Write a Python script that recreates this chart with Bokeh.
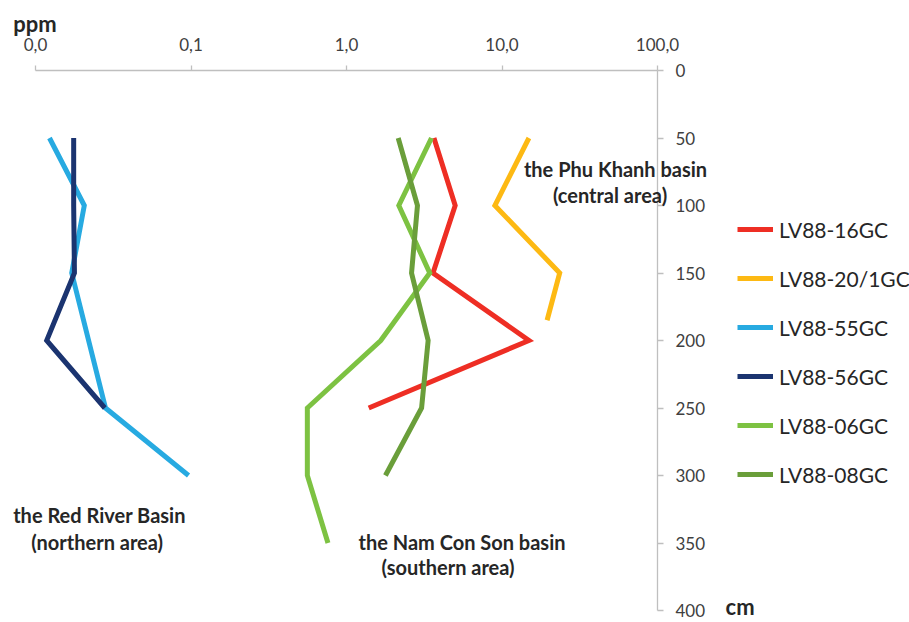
from bokeh.plotting import figure
from bokeh.models import Range1d, FixedTicker, Legend, LegendItem, Label
from bokeh.embed import file_html
from bokeh.resources import INLINE

# ---- data (ppm vs depth in cm) ----
depth_16 = [50, 100, 150, 200, 250]
ppm_16 = [3.65, 5.0, 3.6, 14.9, 1.39]

depth_20 = [50, 100, 150, 185]
ppm_20 = [14.9, 9.0, 23.5, 19.5]

depth_55 = [50, 100, 150, 250, 300]
ppm_55 = [0.0123, 0.0206, 0.0171, 0.0282, 0.0964]

depth_56 = [50, 100, 150, 200, 250]
ppm_56 = [0.0176, 0.0176, 0.0178, 0.0118, 0.0279]

depth_06 = [50, 100, 150, 200, 250, 300, 350]
ppm_06 = [3.52, 2.17, 3.43, 1.66, 0.56, 0.56, 0.76]

depth_08 = [50, 100, 150, 200, 250, 300]
ppm_08 = [2.15, 2.86, 2.62, 3.35, 3.04, 1.78]

series_names = ["LV88-16GC", "LV88-20/1GC", "LV88-55GC", "LV88-56GC", "LV88-06GC", "LV88-08GC"]
series_colors = ["#EE2E24", "#FDB913", "#27AAE1", "#1B3470", "#7DC242", "#6A9E3A"]

x_ticks = [0.01, 0.1, 1, 10, 100]
x_tick_labels = ["0,0", "0,1", "1,0", "10,0", "100,0"]
y_ticks = [0, 50, 100, 150, 200, 250, 300, 350, 400]

FONT = "Lato"
GRAY = "#BFBFBF"
TXT = "#262626"

W, H = 909, 622
# axis extents on the canvas: 0.01..100 -> 35..657 px, 0..400 cm -> 70..610 px
X0, X1, Y0, Y1 = 35, 657, 70, 610
px_dec = (X1 - X0) / 4.0
px_cm = (Y1 - Y0) / 400.0
x_lo = 10 ** (-2 - X0 / px_dec)
x_hi = 10 ** (2 + (W - X1) / px_dec)
y_top = -Y0 / px_cm
y_bot = 400 + (H - Y1) / px_cm

p = figure(width=W, height=H, x_axis_type="log",
           x_range=Range1d(x_lo, x_hi), y_range=Range1d(y_bot, y_top),
           x_axis_location="above", y_axis_location="right",
           output_backend="svg", toolbar_location=None,
           min_border_left=0, min_border_top=0, min_border_right=0,
           min_border_bottom=0)
p.title.visible = False
p.outline_line_color = None
p.xgrid.grid_line_color = None
p.ygrid.grid_line_color = None
p.background_fill_color = "white"
p.border_fill_color = "white"

xa = p.xaxis[0]
xa.ticker = FixedTicker(ticks=x_ticks, minor_ticks=[])
xa.major_label_overrides = {t: l for t, l in zip(x_ticks, x_tick_labels)}
xa.bounds = (0.01, 100)
xa.fixed_location = 0
ya = p.yaxis[0]
ya.ticker = FixedTicker(ticks=y_ticks, minor_ticks=[])
ya.bounds = (0, 400)
ya.fixed_location = 100

for ax in (xa, ya):
    ax.axis_line_color = GRAY
    ax.axis_line_width = 1.3
    ax.major_tick_line_color = GRAY
    ax.major_tick_line_width = 1.3
    ax.minor_tick_line_color = None
    ax.major_tick_in = 0
    ax.major_label_text_font = FONT
    ax.major_label_text_font_size = "17px"
    ax.major_label_text_color = "#404040"
xa.major_tick_out = 5
xa.major_label_standoff = 15
ya.major_tick_out = 6
ya.major_label_standoff = 12

series = [(depth_16, ppm_16), (depth_20, ppm_20), (depth_55, ppm_55),
          (depth_56, ppm_56), (depth_06, ppm_06), (depth_08, ppm_08)]
renderers = []
for (d, v), c in zip(series, series_colors):
    r = p.line(v, d, line_color=c, line_width=5, line_join="miter")
    renderers.append(r)

legend = Legend(items=[LegendItem(label=n, renderers=[r]) for n, r in zip(series_names, renderers)],
                location=(737, 135))
legend.padding = 0
legend.margin = 0
legend.border_line_color = None
legend.background_fill_alpha = 0
legend.glyph_width = 36
legend.glyph_height = 26
legend.label_height = 26
legend.spacing = 23
legend.label_standoff = 6
legend.label_text_font = FONT
legend.label_text_font_size = "21px"
legend.label_text_color = TXT
p.add_layout(legend, "center")

def add_text(txt, x, y, align="center", size="20px"):
    p.add_layout(Label(x=x, y=y, text=txt, text_align=align, text_baseline="middle",
                       text_font=FONT, text_font_style="bold", text_font_size=size,
                       text_color=TXT))

add_text("the Phu Khanh basin", 53.7, 73)
add_text("(central area)", 49.5, 92)
add_text("the Red River Basin", 0.0258, 329)
add_text("(northern area)", 0.0249, 349)
add_text("the Nam Con Son basin", 5.53, 349)
add_text("(southern area)", 4.5, 367.5)
add_text("ppm", 0.0072, -35, align="left", size="22px")
add_text("cm", 274, 397, align="left", size="22px")

open("out.html", "w").write(file_html(p, INLINE))
